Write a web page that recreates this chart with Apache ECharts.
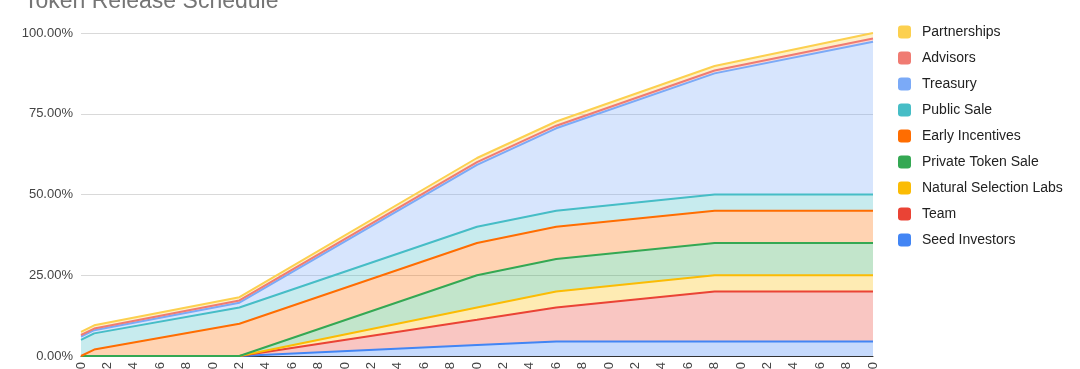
<!DOCTYPE html>
<html>
<head>
<meta charset="utf-8">
<script src="https://cdn.jsdelivr.net/npm/echarts@6/dist/echarts.min.js"></script>
<style>
html,body{margin:0;padding:0;background:#fff;}
#chart{width:1080px;height:369px;}
</style>
</head>
<body>
<div id="chart"></div>
<script>
// Months at which the schedule changes slope (values read at these months)
const months = [0, 1, 12, 30, 36, 48, 60];

// Individual allocation released (% of total supply), stacked bottom -> top
const seedInvestors      = [0, 0, 0, 3.4, 4.5, 4.5, 4.5];
const team               = [0, 0, 0, 7.8, 10.5, 15.5, 15.5];
const naturalSelection   = [0, 0, 0, 3.8, 5, 5, 5];
const privateTokenSale   = [0, 0, 0, 10, 10, 10, 10];
const earlyIncentives    = [0, 2, 10, 10, 10, 10, 10];
const publicSale         = [5, 5, 5, 5, 5, 5, 5];
const treasury           = [1, 1, 1.5, 19.2, 25.5, 37.5, 47.3];
const advisors           = [0.5, 0.5, 0.7, 0.8, 0.8, 0.9, 1.0];
const partnerships       = [1, 1, 1, 1.3, 1.3, 1.4, 1.7];

const xTicks = {min: 0, max: 60, step: 2};
const yTicks = [0, 25, 50, 75, 100];

const seriesDefs = [
  ['Seed Investors', seedInvestors, '#4285F4'],
  ['Team', team, '#EA4335'],
  ['Natural Selection Labs', naturalSelection, '#FBBC04'],
  ['Private Token Sale', privateTokenSale, '#34A853'],
  ['Early Incentives', earlyIncentives, '#FF6D01'],
  ['Public Sale', publicSale, '#46BDC6'],
  ['Treasury', treasury, '#7BAAF7'],
  ['Advisors', advisors, '#F07B72'],
  ['Partnerships', partnerships, '#FCD04F']
];

const FONT = 'Liberation Sans, Arial, sans-serif';

const chart = echarts.init(document.getElementById('chart'), null, {renderer: 'canvas'});
chart.setOption({
  animation: false,
  title: {
    text: 'Token Release Schedule',
    left: 19,
    top: -15,
    textStyle: {fontFamily: FONT, fontSize: 23, fontWeight: 'normal', color: '#757575'}
  },
  legend: {
    orient: 'vertical',
    left: 893,
    top: 20,
    itemWidth: 13,
    itemHeight: 13,
    itemGap: 12,
    icon: 'roundRect',
    data: seriesDefs.map(d => d[0]).reverse(),
    textStyle: {fontFamily: FONT, fontSize: 14, color: '#222', padding: [0, 0, 0, 6]}
  },
  grid: {left: 81, right: 207, top: 33, bottom: 13, containLabel: false, outerBoundsMode: 'none'},
  xAxis: {
    type: 'value',
    min: xTicks.min,
    max: xTicks.max,
    interval: xTicks.step,
    axisLine: {show: true, lineStyle: {color: '#333', width: 1}},
    axisTick: {show: false},
    splitLine: {show: false},
    axisLabel: {rotate: 90, margin: 6, fontFamily: FONT, fontSize: 13, color: '#444'}
  },
  yAxis: {
    type: 'value',
    min: yTicks[0],
    max: yTicks[yTicks.length - 1],
    interval: 25,
    axisLine: {show: false},
    axisTick: {show: false},
    splitLine: {lineStyle: {color: '#d9d9d9', width: 1}},
    axisLabel: {
      margin: 8,
      fontFamily: FONT, fontSize: 13, color: '#444',
      formatter: v => v.toFixed(2) + '%'
    }
  },
  series: seriesDefs.map(([name, vals, color]) => ({
    name: name,
    type: 'line',
    stack: 'total',
    symbol: 'none',
    showSymbol: false,
    // value first so the stacked dimension is the value; month second on x
    encode: {x: 1, y: 0},
    data: months.map((m, i) => [vals[i], m]),
    itemStyle: {color: color},
    lineStyle: {color: color, width: 2},
    areaStyle: {color: color, opacity: 0.3}
  }))
});
</script>
</body>
</html>
